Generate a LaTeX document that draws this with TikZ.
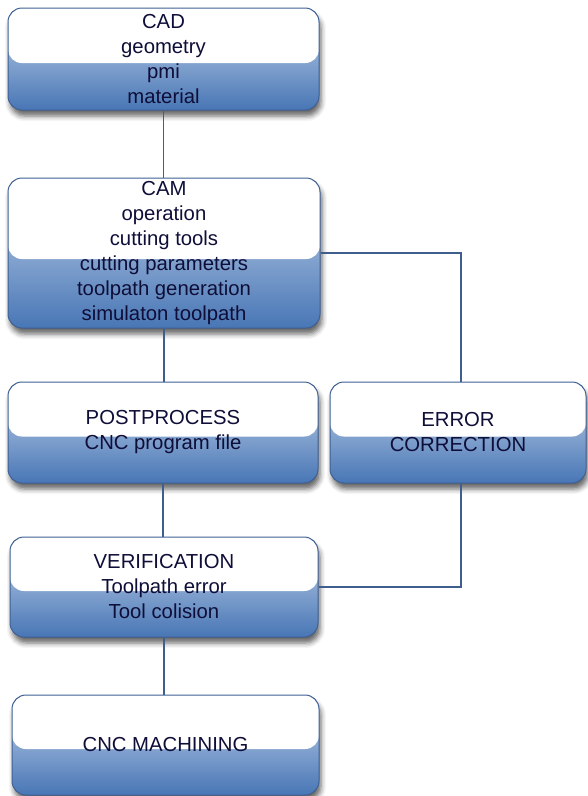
\documentclass[tikz,border=0pt]{standalone}
\usepackage{fontspec}
\setmainfont{Liberation Sans}
\usetikzlibrary{calc,shadows.blur}
\definecolor{boxtop}{RGB}{198,214,236}
\definecolor{boxbottom}{RGB}{72,118,181}
\definecolor{boxline}{RGB}{62,96,148}
\definecolor{linkline}{RGB}{62,94,142}
\definecolor{boxtext}{RGB}{14,14,56}

\begin{document}
\begin{tikzpicture}[x=1pt, y=-1pt,
  stage/.style={draw=boxline, line width=1pt, rounded corners=14pt,
    top color=boxtop, bottom color=boxbottom,
    blur shadow={shadow xshift=2pt, shadow yshift=-6pt,
      shadow blur radius=5pt, shadow opacity=60},
    path picture={\fill[white, rounded corners=14pt]
      (path picture bounding box.north west) rectangle
      ($(path picture bounding box.north east)!0.54!(path picture bounding box.south east)$);},
    align=center, inner sep=0pt, text=boxtext,
    font=\fontsize{20.3}{25}\selectfont},
  link/.style={draw=linkline, line width=1.4pt}]

\useasboundingbox (0,0) rectangle (587,796);

% CAD
\node[stage, minimum width=311pt, minimum height=102pt] (cad) at (163.5,59)
  {CAD\\geometry\\pmi\\material};

% CAM
\node[stage, minimum width=312pt, minimum height=150pt] (cam) at (164,253)
  {CAM\\operation\\cutting tools\\cutting parameters\\toolpath generation\\simulaton toolpath};

% postprocess and error correction
\node[stage, minimum width=310pt, minimum height=101pt] (post) at (163,432.5)
  {POSTPROCESS\\CNC program file};
\node[stage, minimum width=256pt, minimum height=101pt] (err) at (458,432.5)
  {ERROR\\CORRECTION};

% verification
\node[stage, minimum width=308pt, minimum height=100pt] (ver) at (164,587)
  {VERIFICATION\\Toolpath error\\Tool colision};

% machining
\node[stage, minimum width=307pt, minimum height=100pt] (mach) at (165.5,745)
  {CNC MACHINING};

% links
\draw[link] (cad.south) -- (cad.south |- cam.north);
\draw[link] (cam.south) -- (cam.south |- post.north);
\draw[link] (post.south) -- (post.south |- ver.north);
\draw[link] (ver.south) -- (ver.south |- mach.north);

% error loop
\draw[link] (cam.east) -| ([xshift=3pt]err.north);
\draw[link] ([xshift=3pt]err.south) |- (ver.east);

\end{tikzpicture}
\end{document}
